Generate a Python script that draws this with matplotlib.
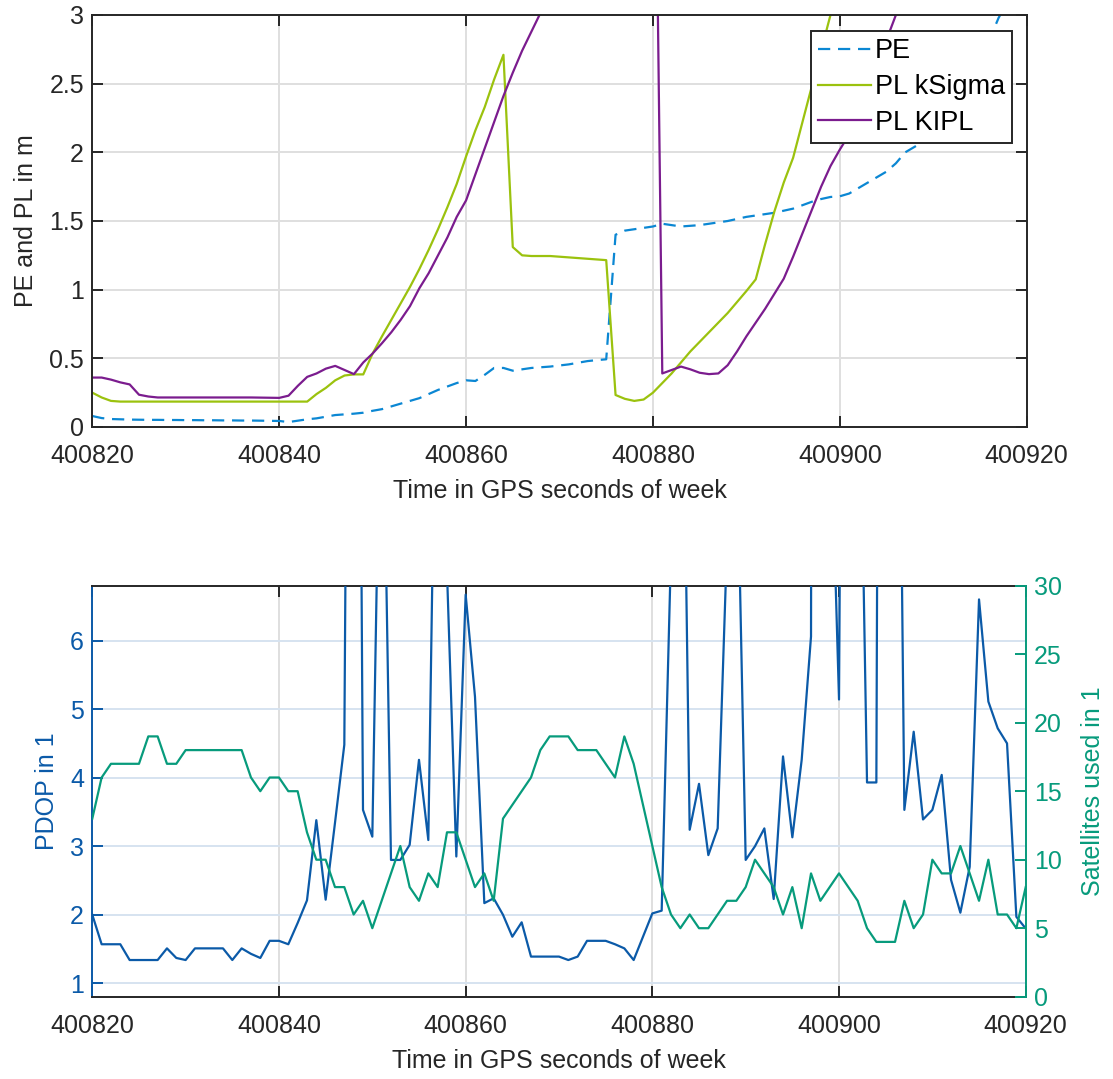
import numpy as np
import matplotlib
matplotlib.use("Agg")
import matplotlib.pyplot as plt
from matplotlib.ticker import FormatStrFormatter

plt.rcParams['font.family'] = ['Liberation Sans', 'DejaVu Sans']

# ---- data -------------------------------------------------------------
t0 = 400820
time = t0 + np.arange(101)

pe = [0.08, 0.065, 0.058, 0.056, 0.054, 0.053, 0.052, 0.052, 0.051, 0.051,
      0.05, 0.05, 0.049, 0.049, 0.048, 0.048, 0.047, 0.047, 0.046, 0.045,
      0.044, 0.036, 0.046, 0.056, 0.063, 0.075, 0.087, 0.092, 0.097, 0.104,
      0.118, 0.13, 0.15, 0.17, 0.19, 0.21, 0.24, 0.27, 0.295, 0.32,
      0.34, 0.335, 0.38, 0.43, 0.43, 0.41, 0.42, 0.43, 0.435, 0.44,
      0.448, 0.456, 0.468, 0.48, 0.487, 0.493, 1.40, 1.43, 1.44, 1.45,
      1.46, 1.48, 1.47, 1.46, 1.465, 1.47, 1.48, 1.49, 1.50, 1.515,
      1.53, 1.54, 1.55, 1.56, 1.575, 1.59, 1.615, 1.64, 1.66, 1.675,
      1.68, 1.70, 1.74, 1.78, 1.82, 1.86, 1.92, 2.0, 2.04, 2.08,
      2.16, 2.25, 2.35, 2.45, 2.56, 2.68, 2.82, 2.98, 3.1, 3.22,
      3.35]

pl_ksigma = [0.25, 0.215, 0.19, 0.185, 0.185, 0.185, 0.185, 0.185, 0.185, 0.185,
             0.185, 0.185, 0.185, 0.185, 0.185, 0.185, 0.185, 0.185, 0.185, 0.185,
             0.185, 0.185, 0.185, 0.185, 0.24, 0.285, 0.34, 0.375, 0.383, 0.383,
             0.535, 0.66, 0.78, 0.9, 1.02, 1.15, 1.29, 1.44, 1.6, 1.77,
             1.97, 2.16, 2.33, 2.53, 2.71, 1.31, 1.25, 1.245, 1.245, 1.245,
             1.24, 1.235, 1.23, 1.225, 1.22, 1.215, 0.233, 0.205, 0.19, 0.2,
             0.25, 0.32, 0.39, 0.47, 0.55, 0.62, 0.69, 0.76, 0.83, 0.91,
             0.99, 1.075, 1.33, 1.57, 1.78, 1.96, 2.22, 2.48, 2.74, 3.0,
             3.25, 3.5, 3.75, 4.0, 4.25, 4.5, 4.75, 5.0, 5.25, 5.5,
             5.75, 6.0, 6.25, 6.5, 6.75, 7.0, 7.25, 7.5, 7.75, 8.0,
             8.25]

pl_kipl = [0.36, 0.36, 0.345, 0.325, 0.31, 0.235, 0.222, 0.215, 0.215, 0.215,
           0.215, 0.215, 0.215, 0.215, 0.215, 0.215, 0.215, 0.215, 0.214, 0.213,
           0.212, 0.228, 0.30, 0.365, 0.39, 0.425, 0.445, 0.415, 0.385, 0.47,
           0.535, 0.61, 0.69, 0.78, 0.88, 1.01, 1.12, 1.25, 1.38, 1.53,
           1.65, 1.84, 2.03, 2.22, 2.41, 2.58, 2.74, 2.88, 3.02, 3.2,
           3.45, 3.7, 3.95, 4.2, 4.45, 4.7, 4.95, 5.2, 5.45, 5.7,
           5.95, 0.39, 0.415, 0.44, 0.42, 0.395, 0.385, 0.39, 0.45, 0.55,
           0.66, 0.76, 0.86, 0.97, 1.08, 1.24, 1.41, 1.58, 1.75, 1.9,
           2.02, 2.13, 2.3, 2.47, 2.64, 2.82, 3.0, 3.2, 3.4, 3.6,
           3.8, 4.0, 4.2, 4.4, 4.6, 4.8, 5.0, 5.2, 5.4, 5.6,
           5.8]

pdop = [2.0, 1.57, 1.57, 1.57, 1.34, 1.34, 1.34, 1.34, 1.51, 1.37,
        1.34, 1.51, 1.51, 1.51, 1.51, 1.34, 1.51, 1.43, 1.37, 1.62,
        1.62, 1.57, 1.88, 2.21, 3.38, 2.22, 3.34, 4.48, 25.0, 3.53,
        3.14, 11.0, 2.80, 2.80, 3.02, 4.26, 3.09, 12.0, 7.0, 2.85,
        6.67, 5.18, 2.17, 2.24, 2.0, 1.68, 1.89, 1.39, 1.39, 1.39,
        1.39, 1.34, 1.39, 1.62, 1.62, 1.62, 1.57, 1.51, 1.34, 1.68,
        2.02, 2.06, 7.3, 13.0, 3.24, 3.91, 2.87, 3.26, 7.4, 9.4,
        2.80, 3.0, 3.26, 2.23, 4.31, 3.13, 4.26, 6.06, 90.0, 9.8,
        5.14, 28.0, 11.9, 3.93, 3.93, 41.0, 16.6, 3.53, 4.67, 3.39,
        3.53, 4.04, 2.51, 2.03, 2.7, 6.6, 5.11, 4.72, 4.5, 1.97,
        1.80]

sats = [13, 16, 17, 17, 17, 17, 19, 19, 17, 17,
        18, 18, 18, 18, 18, 18, 18, 16, 15, 16,
        16, 15, 15, 12, 10, 10, 8, 8, 6, 7,
        5, 7, 9, 11, 8, 7, 9, 8, 12, 12,
        10, 8, 9, 7, 13, 14, 15, 16, 18, 19,
        19, 19, 18, 18, 18, 17, 16, 19, 17, 14,
        11, 8, 6, 5, 6, 5, 5, 6, 7, 7,
        8, 10, 9, 8, 6, 8, 5, 9, 7, 8,
        9, 8, 7, 5, 4, 4, 4, 7, 5, 6,
        10, 9, 9, 11, 9, 7, 10, 6, 6, 5,
        8]

x_ticks = [400820, 400840, 400860, 400880, 400900, 400920]
top_yticks = [0, 0.5, 1, 1.5, 2, 2.5, 3]
pdop_ticks = [1, 2, 3, 4, 5, 6]
sat_ticks = [0, 5, 10, 15, 20, 25, 30]

# ---- style ------------------------------------------------------------
FS = 18
DARK = '#262626'
C_PE = '#0b87d3'
C_KS = '#9bc20e'
C_KIPL = '#7b1c8e'
C_PDOP = '#0b5aa8'
C_SAT = '#079b7c'
LW = 1.6
XPAD = 12.5

W, H = 1113, 1079
fig = plt.figure(figsize=(W / 100, H / 100), dpi=100)

ax1 = fig.add_axes([92.3 / W, 1 - 427 / H, 934.4 / W, 412 / H])
ax2 = fig.add_axes([92.3 / W, 1 - 996.7 / H, 933.4 / W, 411 / H])
ax2r = ax2.twinx()

# ---- top panel: position error and protection levels -------------------
ax1.plot(time, pe, color=C_PE, lw=LW, dashes=(5.5, 3.5), label='PE')
ax1.plot(time, pl_ksigma, color=C_KS, lw=LW, label='PL kSigma')
ax1.plot(time, pl_kipl, color=C_KIPL, lw=LW, label='PL KIPL')
ax1.set_xlim(400820, 400920)
ax1.set_ylim(0, 3)
ax1.set_xticks(x_ticks)
ax1.set_yticks(top_yticks)
ax1.xaxis.set_major_formatter(FormatStrFormatter('%d'))
ax1.yaxis.set_major_formatter(FormatStrFormatter('%g'))
ax1.grid(True, color='#dfdfdf', lw=1.4)
ax1.set_axisbelow(True)
ax1.tick_params(direction='in', top=True, right=True, length=8, width=1.4,
                labelsize=FS, colors=DARK)
ax1.tick_params(axis='x', pad=XPAD)
ax1.tick_params(axis='y', pad=6)
for s in ax1.spines.values():
    s.set_color(DARK)
    s.set_linewidth(1.4)
ax1.set_xlabel('Time in GPS seconds of week', fontsize=FS, color=DARK, labelpad=8)
ax1.set_ylabel('PE and PL in m', fontsize=FS, color=DARK, labelpad=8)
leg = ax1.legend(loc='upper right', bbox_to_anchor=(0.984, 0.96),
                 borderaxespad=0, fontsize=19.5, frameon=True, fancybox=False,
                 handlelength=1.95, handletextpad=0.15, borderpad=0.25,
                 labelspacing=0.36)
leg.get_frame().set_edgecolor(DARK)
leg.get_frame().set_linewidth(1.4)
leg.get_frame().set_alpha(1)
for txt in leg.get_texts():
    txt.set_color('black')

# ---- bottom panel: PDOP and satellites ----------------------------------
ax2.plot(time, pdop, color=C_PDOP, lw=LW, zorder=3)
ax2r.plot(time, sats, color=C_SAT, lw=LW)
ax2.set_xlim(400820, 400920)
ax2.set_ylim(0.805, 6.8)
ax2r.set_ylim(0, 30)
ax2.set_xticks(x_ticks)
ax2.set_yticks(pdop_ticks)
ax2r.set_yticks(sat_ticks)
ax2.xaxis.set_major_formatter(FormatStrFormatter('%d'))
ax2.xaxis.grid(True, color='#dfdfdf', lw=1.4)
ax2.yaxis.grid(True, color='#d6e3f0', lw=1.4)
ax2.set_axisbelow(True)
ax2.tick_params(axis='x', direction='in', top=True, length=8, width=1.4,
                labelsize=FS, colors=DARK, pad=XPAD)
ax2.tick_params(axis='y', direction='in', length=8, width=1.4,
                labelsize=FS, colors=C_PDOP, pad=6)
ax2r.tick_params(axis='y', direction='in', length=8, width=1.4,
                 labelsize=FS, colors=C_SAT, pad=6)
for key in ('top', 'bottom'):
    ax2.spines[key].set_color(DARK)
    ax2.spines[key].set_linewidth(1.4)
    ax2r.spines[key].set_visible(False)
ax2.spines['left'].set_color(C_PDOP)
ax2.spines['left'].set_linewidth(1.4)
ax2.spines['right'].set_visible(False)
ax2r.spines['left'].set_visible(False)
ax2r.spines['right'].set_color(C_SAT)
ax2r.spines['right'].set_linewidth(1.4)
ax2.set_xlabel('Time in GPS seconds of week', fontsize=FS, color=DARK, labelpad=8)
ax2.set_ylabel('PDOP in 1', fontsize=FS, color=C_PDOP, labelpad=8)
ax2r.set_ylabel('Satellites used in 1', fontsize=FS, color=C_SAT, labelpad=14)

fig.savefig('out.png', dpi=100, facecolor='white')
